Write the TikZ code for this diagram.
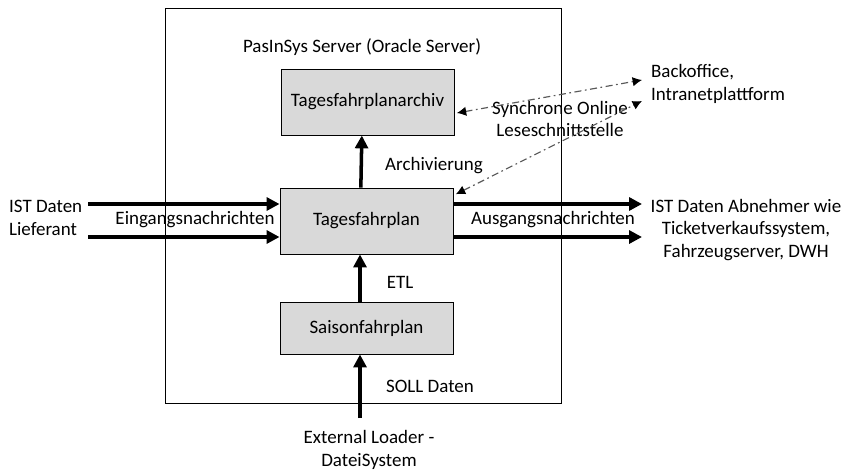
\documentclass[tikz,border=0pt]{standalone}
\usepackage{fontspec}
\setmainfont{Carlito}
\usetikzlibrary{arrows.meta}

\begin{document}
\begin{tikzpicture}[x=0.03cm, y=-0.03cm]
\tikzset{blatt/.style={draw, line width=0.8pt, minimum width=11.88cm, minimum height=11.85cm},
  kasten/.style={draw, line width=0.8pt, fill=black!15, minimum width=5.19cm, minimum height=1.98cm},
  etikett/.style={font=\fontsize{16.2}{19.5}\selectfont},
  dickpfeil/.style={line width=3pt, -{Triangle[length=11pt, width=11pt]}},
  syncpfeil/.style={draw=black!65, line width=1pt, dash pattern=on 6pt off 3pt on 1.5pt off 3pt, {Latex[length=8pt, width=8pt, black]}-{Latex[length=8pt, width=8pt, black]}}}
\useasboundingbox (0,0) rectangle (844,470);
\node[blatt] (server) at (363,205.5) {};
\node[etikett] (titel) at (362,47) {PasInSys Server (Oracle Server)};
\node[kasten, etikett] (archiv) at (367.5,102) {Tagesfahrplanarchiv};
\node[kasten, etikett] (tages) at (366.5,221) {Tagesfahrplan};
\node[kasten, etikett, minimum height=1.56cm] (saison) at (366.5,328) {Saisonfahrplan};
\coordinate (ein1) at (88,204);
\coordinate (ein2) at (88,237);
\coordinate (aus1) at (642,204);
\coordinate (aus2) at (642,237);
\coordinate (lader) at (360,418);
\coordinate (bo1) at (642,80);
\coordinate (bo2) at (642,101);
\node[etikett, anchor=west, align=left] (lieferant) at (5,218) {IST Daten\\Lieferant};
\node[etikett] (eingang) at (195,220) {Eingangsnachrichten};
\node[etikett] (ausgang) at (553,220) {Ausgangsnachrichten};
\node[etikett, align=center] (abnehmer) at (746,230) {IST Daten Abnehmer wie\\Ticketverkaufssystem,\\Fahrzeugserver, DWH};
\node[etikett, anchor=west, align=left] (backoffice) at (647,84) {Backoffice,\\Intranetplattform};
\node[etikett, align=center] (sync) at (560,119) {Synchrone Online\\Leseschnittstelle};
\node[etikett] (archivierung) at (434,166) {Archivierung};
\node[etikett] (etl) at (400,282) {ETL};
\node[etikett] (soll) at (430,386) {SOLL Daten};
\node[etikett, align=center] (loader) at (369,450) {External Loader -\\DateiSystem};
\draw[dickpfeil] (ein1) -- (ein1 -| tages.west);
\draw[dickpfeil] (ein2) -- (ein2 -| tages.west);
\draw[dickpfeil] (aus1 -| tages.east) -- (aus1);
\draw[dickpfeil] (aus2 -| tages.east) -- (aus2);
\draw[dickpfeil] ([xshift=-0.17cm]tages.north) -- ([xshift=-0.17cm]archiv.south);
\draw[dickpfeil] (saison.north -| lader) -- (tages.south -| lader);
\draw[dickpfeil] (lader) -- (saison.south -| lader);
\draw[syncpfeil] ([xshift=2pt, yshift=-0.33cm]archiv.east) -- (bo1);
\draw[syncpfeil] ([xshift=2pt, yshift=-0.2cm]tages.north east) -- (bo2);
\end{tikzpicture}
\end{document}
